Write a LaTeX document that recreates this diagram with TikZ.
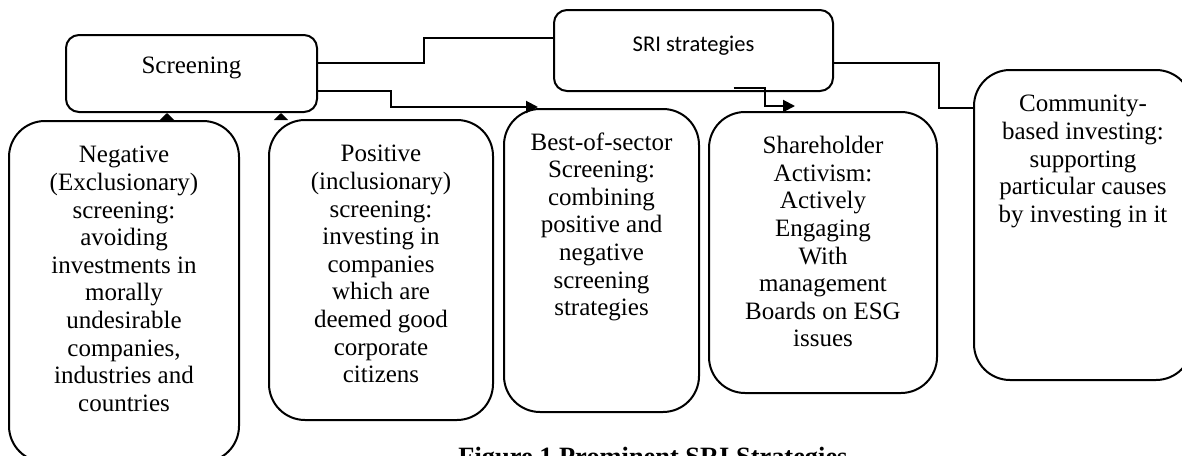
\documentclass[tikz,border=0pt]{standalone}
\usepackage{fontspec}
\setmainfont{Liberation Serif}
\newfontfamily\calibrifont{Carlito}
\usetikzlibrary{arrows.meta}

\begin{document}
\begin{tikzpicture}[x=0.5pt,y=-0.5pt,
  topbox/.style={draw,line width=1pt,rounded corners=6.5pt},
  bigbox/.style={draw,line width=1pt,rounded corners=18pt},
  boxtext/.style={anchor=north,align=center,inner sep=0pt,font=\fontsize{12.5}{13.8}\selectfont},
  conn/.style={line width=1pt},
  arr/.style={line width=1pt,-{Triangle[length=6pt,width=6pt]}},
  uparr/.style={line width=1pt,-{Triangle[length=3.5pt,width=7pt]}}]
\useasboundingbox (0,0) rectangle (1182,455);
% top row
\node[topbox,minimum width=125.5pt,minimum height=38.5pt] (scr) at (191.5,73.5) {};
\node[topbox,minimum width=139.5pt,minimum height=40.5pt] (sri) at (693.5,50.5) {};
\node[boxtext] (scrtxt) at ([yshift=-11.3pt]scr.north) {Screening};
\node[boxtext,font=\calibrifont\fontsize{11.25}{13}\selectfont] (sritxt) at ([yshift=-13.5pt]sri.north) {SRI strategies};
% strategy boxes
\node[bigbox,minimum width=115pt,minimum height=170.5pt] (neg) at (124,291.5) {};
\node[bigbox,minimum width=112pt,minimum height=150pt] (pos) at (381,270) {};
\node[bigbox,minimum width=97.5pt,minimum height=151.5pt] (best) at (601.5,260.5) {};
\node[bigbox,minimum width=114pt,minimum height=140.5pt] (share) at (823,252.5) {};
\node[bigbox,minimum width=109pt,minimum height=155pt] (comm) at (1083,225) {};
\node[boxtext] (negtxt) at ([yshift=-13pt]neg.north) {Negative\\(Exclusionary)\\screening:\\avoiding\\investments in\\morally\\undesirable\\companies,\\industries and\\countries};
\node[boxtext] (postxt) at ([yshift=-13pt]pos.north) {Positive\\(inclusionary)\\screening:\\investing in\\companies\\which are\\deemed good\\corporate\\citizens};
\node[boxtext] (besttxt) at ([yshift=-12pt]best.north) {Best-of-sector\\Screening:\\combining\\positive and\\negative\\screening\\strategies};
\node[boxtext] (sharetxt) at ([yshift=-12.5pt]share.north) {Shareholder\\Activism:\\Actively\\Engaging\\With\\management\\Boards on ESG\\issues};
\node[boxtext] (commtxt) at ([yshift=-13pt]comm.north) {Community-\\based investing:\\supporting\\particular causes\\by investing in it};
% connectors
\draw[conn] ([yshift=5.25pt]scr.east) -- ++(53pt,0) |- ([yshift=6.25pt]sri.west);
\draw[arr] ([yshift=-8.75pt]scr.east) -- ++(36.5pt,0) |- ([xshift=-31.75pt,yshift=0.5pt]best.north);
\draw[arr] ([xshift=20pt,yshift=2pt]sri.south) -- ++(15.5pt,0) |- ([xshift=-14pt,yshift=2.5pt]share.north);
\draw[conn] ([yshift=-6.25pt]sri.east) -- ++(52.5pt,0) |- ([yshift=58.5pt]comm.west);
\draw[uparr] ([xshift=21.5pt]neg.north) -- ([xshift=21.5pt]neg.north |- scr.south);
\draw[uparr] ([xshift=-50pt]pos.north) -- ([xshift=-50pt]pos.north |- scr.south);
% caption
\node[anchor=north west,inner sep=0pt,font=\bfseries\fontsize{13.2}{15}\selectfont] (cap) at (458,447) {Figure 1 Prominent SRI Strategies};
\end{tikzpicture}
\end{document}
